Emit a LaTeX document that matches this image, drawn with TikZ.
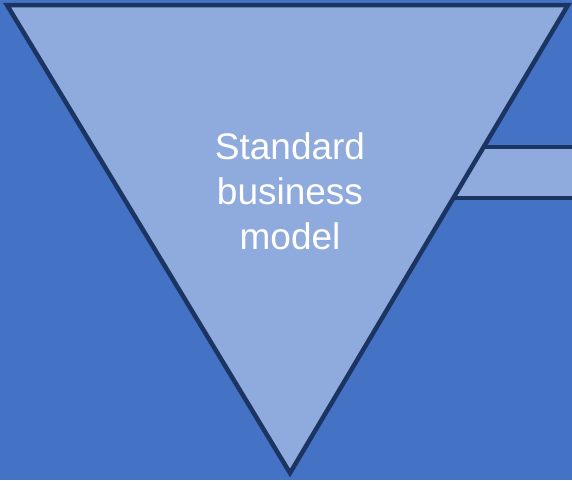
\documentclass[tikz,border=0pt]{standalone}
\usepackage{fontspec}
\setmainfont{Liberation Sans}
\definecolor{bgblue}{HTML}{4472C4}
\definecolor{lightblue}{HTML}{8FAADC}
\definecolor{darkline}{HTML}{1C3461}
\begin{document}
\begin{tikzpicture}[x=1pt,y=-1pt,
  funnelshape/.style={fill=lightblue,draw=darkline,line width=4.5pt,line join=miter},
  barline/.style={darkline,line width=4.5pt},
  labeltext/.style={text=white,font=\fontsize{37}{45}\selectfont,align=center}]
\fill[bgblue] (0,0) rectangle (572,480);
\useasboundingbox (0,0) rectangle (572,480);
\begin{scope}
\clip (0,0) rectangle (572,480);
\coordinate (tl) at (7,5);
\coordinate (tr) at (568,5);
\coordinate (ap) at (290,473);
\coordinate (b1) at (484,147);
\coordinate (b2) at (454,198);
\coordinate (e1) at (580,147);
\coordinate (e2) at (580,198);
\fill[lightblue] (b1) -- (e1) -- (e2) -- (b2) -- cycle;
\draw[barline] (b1) -- (e1);
\draw[barline] (b2) -- (e2);
\draw[funnelshape] (tl) -- (tr) -- (ap) -- cycle;
\end{scope}
\node[labeltext] (txt) at (290,191) {Standard\\business\\model};
\end{tikzpicture}
\end{document}
